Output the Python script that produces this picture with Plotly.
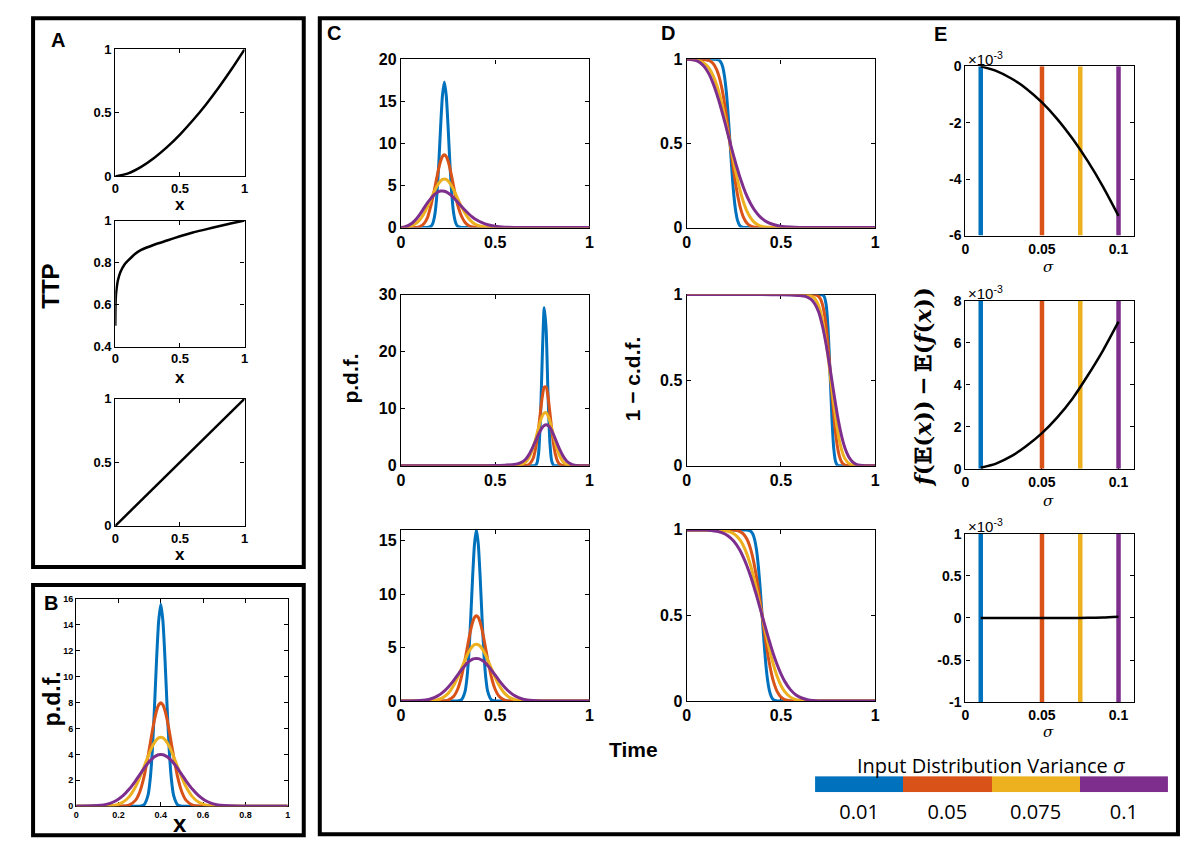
import plotly.graph_objects as go

W, H = 1200, 854
FONT = "Liberation Sans"

COLORS = ["#0072BD", "#D95319", "#EDB120", "#7E2F8E"]
SIGMAS = [0.01, 0.05, 0.075, 0.1]
SIGMA_LABELS = ["0.01", "0.05", "0.075", "0.1"]

# --- panel A: transfer functions (TTP) ---
A1_X = [0, 0.1, 0.2, 0.3, 0.4, 0.5, 0.6, 0.7, 0.8, 0.9, 1.0]
A1_Y = [0, 0.025, 0.076, 0.146, 0.231, 0.33, 0.442, 0.565, 0.70, 0.845, 1.0]
A2_X = [0, 0.002, 0.005, 0.01, 0.02, 0.04, 0.07, 0.1, 0.15, 0.2, 0.3, 0.4, 0.5, 0.6, 0.7, 0.8, 0.9, 1.0]
A2_Y = [0.5, 0.6, 0.645, 0.675, 0.715, 0.755, 0.79, 0.81, 0.84, 0.86, 0.885, 0.905, 0.925, 0.943, 0.958, 0.973, 0.987, 1.0]
A3_X = [0, 1]
A3_Y = [0, 1]

# --- row 1 (C/D top): output time grid and curves ---
T1 = [0, 0.02, 0.04, 0.06, 0.08, 0.10, 0.12, 0.14, 0.16, 0.17, 0.18, 0.19, 0.20, 0.21, 0.22, 0.23, 0.24, 0.25,
      0.26, 0.27, 0.28, 0.29, 0.30, 0.32, 0.34, 0.36, 0.38, 0.40, 0.43, 0.46, 0.50, 0.55, 0.60, 0.70, 0.80, 1.0]
C1_BLUE = [0, 0, 0, 0, 0, 0, 0, 0, 0.17, 0.58, 1.6, 3.8, 7.4, 11.9, 15.7, 17.3, 15.7, 11.9, 7.4, 3.8, 1.6, 0.58,
           0.17, 0.01, 0, 0, 0, 0, 0, 0, 0, 0, 0, 0, 0, 0]
C1_ORANGE = [0, 0, 0, 0.01, 0.02, 0.12, 0.42, 1.15, 2.73, 3.70, 4.80, 5.94, 7.01, 7.89, 8.47, 8.67, 8.47, 7.89,
             7.01, 5.94, 4.80, 3.70, 2.73, 1.40, 0.60, 0.22, 0.07, 0.02, 0, 0, 0, 0, 0, 0, 0, 0]
C1_YELLOW = [0, 0.04, 0.10, 0.24, 0.50, 0.93, 1.58, 2.45, 3.46, 3.96, 4.45, 4.88, 5.26, 5.54, 5.72, 5.78, 5.72,
             5.54, 5.26, 4.88, 4.45, 3.96, 3.46, 2.52, 1.70, 1.05, 0.60, 0.32, 0.12, 0.04, 0.01, 0, 0, 0, 0, 0]
C1_PURPLE = [0.01, 0.08, 0.26, 0.54, 0.98, 1.56, 2.25, 2.93, 3.50, 3.75, 3.97, 4.15, 4.28, 4.34, 4.35, 4.32, 4.24,
             4.11, 3.95, 3.75, 3.52, 3.28, 3.04, 2.54, 2.05, 1.61, 1.23, 0.92, 0.58, 0.33, 0.15, 0.05, 0.015, 0, 0, 0]
D1_BLUE = [1, 1, 1, 1, 1, 1, 1, 1, 0.999, 0.996, 0.985, 0.959, 0.903, 0.808, 0.668, 0.5, 0.332, 0.192, 0.097,
           0.041, 0.015, 0.005, 0.001, 0, 0, 0, 0, 0, 0, 0, 0, 0, 0, 0, 0, 0]
D1_ORANGE = [1, 1, 1, 1, 0.999, 0.998, 0.992, 0.975, 0.936, 0.903, 0.861, 0.808, 0.743, 0.668, 0.586, 0.5, 0.414,
             0.332, 0.257, 0.192, 0.139, 0.096, 0.064, 0.025, 0.008, 0.002, 0.001, 0, 0, 0, 0, 0, 0, 0, 0, 0]
D1_YELLOW = [1, 0.999, 0.997, 0.993, 0.985, 0.970, 0.945, 0.903, 0.845, 0.808, 0.766, 0.719, 0.668, 0.614, 0.558,
             0.5, 0.442, 0.386, 0.332, 0.281, 0.234, 0.192, 0.155, 0.096, 0.056, 0.030, 0.015, 0.007, 0.002, 0.001,
             0, 0, 0, 0, 0, 0]
D1_PURPLE = [1, 0.999, 0.996, 0.988, 0.972, 0.947, 0.909, 0.857, 0.793, 0.756, 0.718, 0.677, 0.636, 0.593, 0.549,
             0.506, 0.463, 0.422, 0.382, 0.344, 0.307, 0.274, 0.241, 0.185, 0.140, 0.103, 0.075, 0.053, 0.031,
             0.018, 0.008, 0.003, 0.001, 0, 0, 0]

# --- row 2 ---
T2 = [0, 0.2, 0.4, 0.5, 0.55, 0.6, 0.63, 0.66, 0.68, 0.70, 0.71, 0.72, 0.73, 0.74, 0.75, 0.76, 0.77, 0.78, 0.79,
      0.80, 0.81, 0.82, 0.83, 0.84, 0.86, 0.88, 0.90, 0.92, 0.95, 1.0]
C2_BLUE = [0, 0, 0, 0, 0, 0, 0, 0, 0, 0, 0.03, 0.35, 2.2, 8.4, 19.6, 27.7, 23.9, 12.5, 4.0, 0.77, 0.09, 0, 0, 0,
           0, 0, 0, 0, 0, 0]
C2_ORANGE = [0, 0, 0, 0, 0, 0, 0.01, 0.05, 0.25, 1.2, 2.35, 4.2, 6.6, 9.5, 12.2, 13.8, 13.8, 12.2, 9.3, 6.3, 3.7,
             1.9, 0.85, 0.33, 0.05, 0, 0, 0, 0, 0]
C2_YELLOW = [0, 0, 0, 0, 0.01, 0.05, 0.15, 0.6, 1.45, 3.1, 4.2, 5.4, 6.7, 7.9, 8.75, 9.24, 9.3, 8.75, 7.8, 6.5, 5.2,
             3.9, 2.75, 1.85, 0.7, 0.2, 0.05, 0.01, 0, 0]
C2_PURPLE = [0, 0, 0, 0.05, 0.12, 0.22, 0.45, 1.1, 2.0, 3.3, 4.05, 4.76, 5.53, 6.2, 6.74, 7.08, 7.2, 7.08, 6.74,
             6.1, 5.4, 4.6, 3.8, 3.0, 1.7, 0.8, 0.33, 0.1, 0.02, 0]
D2_BLUE = [1, 1, 1, 1, 1, 1, 1, 1, 1, 1, 1, 0.998, 0.988, 0.939, 0.801, 0.556, 0.287, 0.102, 0.024, 0.004, 0, 0,
           0, 0, 0, 0, 0, 0, 0, 0]
D2_ORANGE = [1, 1, 1, 1, 1, 1, 1, 1, 0.999, 0.989, 0.973, 0.943, 0.891, 0.810, 0.700, 0.569, 0.431, 0.300, 0.190,
             0.109, 0.057, 0.027, 0.011, 0.004, 0, 0, 0, 0, 0, 0]
D2_YELLOW = [1, 1, 1, 1, 1, 1, 0.999, 0.993, 0.976, 0.935, 0.900, 0.852, 0.792, 0.719, 0.636, 0.546, 0.454, 0.364,
             0.281, 0.208, 0.148, 0.100, 0.065, 0.041, 0.014, 0.004, 0.001, 0, 0, 0]
D2_PURPLE = [1, 1, 1, 0.999, 0.998, 0.995, 0.99, 0.972, 0.945, 0.898, 0.862, 0.818, 0.766, 0.707, 0.642, 0.572,
             0.5, 0.428, 0.358, 0.293, 0.234, 0.182, 0.138, 0.102, 0.051, 0.023, 0.009, 0.003, 0.0005, 0]

# --- row 3 (identity) and panel B input distributions ---
T3 = [0, 0.05, 0.10, 0.13, 0.16, 0.19, 0.22, 0.25, 0.28, 0.30, 0.32, 0.34, 0.35, 0.36, 0.37, 0.38, 0.39, 0.40,
      0.41, 0.42, 0.43, 0.44, 0.45, 0.46, 0.48, 0.50, 0.52, 0.55, 0.58, 0.61, 0.64, 0.67, 0.70, 0.75, 0.80, 1.0]
C3_BLUE = [0, 0, 0, 0, 0, 0, 0, 0, 0, 0.005, 0.1, 0.9, 2.16, 4.4, 7.8, 11.6, 14.7, 16.0, 14.7, 11.6, 7.8, 4.4,
           2.16, 0.9, 0.1, 0.005, 0, 0, 0, 0, 0, 0, 0, 0, 0, 0]
C3_ORANGE = [0, 0, 0, 0, 0, 0.001, 0.01, 0.09, 0.45, 1.08, 2.22, 3.89, 4.84, 5.80, 6.67, 7.37, 7.82, 7.98, 7.82,
             7.37, 6.67, 5.80, 4.84, 3.89, 2.22, 1.08, 0.45, 0.09, 0.01, 0.001, 0, 0, 0, 0, 0, 0]
C3_YELLOW = [0, 0, 0.002, 0.008, 0.03, 0.105, 0.30, 0.72, 1.48, 2.19, 3.01, 3.86, 4.26, 4.62, 4.91, 5.13, 5.27,
             5.32, 5.27, 5.13, 4.91, 4.62, 4.26, 3.86, 3.01, 2.19, 1.48, 0.72, 0.30, 0.105, 0.03, 0.008, 0.002, 0,
             0, 0]
C3_PURPLE = [0.0013, 0.009, 0.044, 0.10, 0.22, 0.44, 0.79, 1.30, 1.94, 2.42, 2.90, 3.33, 3.52, 3.68, 3.81, 3.91,
             3.97, 3.99, 3.97, 3.91, 3.81, 3.68, 3.52, 3.33, 2.90, 2.42, 1.94, 1.30, 0.79, 0.44, 0.22, 0.10, 0.044,
             0.009, 0.0013, 0]
D3_BLUE = [1, 1, 1, 1, 1, 1, 1, 1, 1, 1, 0.999, 0.992, 0.977, 0.945, 0.885, 0.788, 0.655, 0.5, 0.345, 0.212,
           0.115, 0.055, 0.023, 0.008, 0.001, 0, 0, 0, 0, 0, 0, 0, 0, 0, 0, 0]
D3_ORANGE = [1, 1, 1, 1, 1, 1, 1, 0.999, 0.992, 0.977, 0.945, 0.885, 0.841, 0.788, 0.726, 0.655, 0.579, 0.5,
             0.421, 0.345, 0.274, 0.212, 0.159, 0.115, 0.055, 0.023, 0.008, 0.001, 0, 0, 0, 0, 0, 0, 0, 0]
D3_YELLOW = [1, 1, 1, 1, 0.999, 0.997, 0.992, 0.977, 0.945, 0.909, 0.857, 0.788, 0.748, 0.703, 0.655, 0.605,
             0.553, 0.5, 0.447, 0.395, 0.345, 0.297, 0.252, 0.212, 0.143, 0.091, 0.055, 0.023, 0.008, 0.003,
             0.001, 0, 0, 0, 0, 0]
D3_PURPLE = [1, 1, 0.999, 0.997, 0.992, 0.982, 0.964, 0.933, 0.885, 0.841, 0.788, 0.726, 0.691, 0.655, 0.618,
             0.579, 0.540, 0.5, 0.460, 0.421, 0.382, 0.345, 0.309, 0.274, 0.212, 0.159, 0.115, 0.067, 0.036,
             0.018, 0.008, 0.003, 0.001, 0, 0, 0]
B_BLUE = [0, 0, 0, 0, 0, 0, 0, 0, 0, 0.005, 0.1, 0.88, 2.1, 4.3, 7.6, 11.3, 14.3, 15.6, 14.3, 11.3, 7.6, 4.3,
          2.1, 0.88, 0.1, 0.005, 0, 0, 0, 0, 0, 0, 0, 0, 0, 0]

# --- panel E: Jensen gap f(E(x)) - E(f(x)), in units of 1e-3 ---
E_SIGMA = [0.01, 0.02, 0.03, 0.04, 0.05, 0.06, 0.07, 0.08, 0.09, 0.10]
E1_GAP = [0, -0.16, -0.43, -0.80, -1.28, -1.87, -2.57, -3.37, -4.28, -5.30]
E2_GAP = [0.05, 0.25, 0.6, 1.1, 1.7, 2.45, 3.35, 4.45, 5.65, 7.0]
E3_GAP = [0, 0, 0, 0, 0, 0, 0, 0.002, 0.006, 0.015]


def refs(i):
    s = "" if i == 1 else str(i)
    return "xaxis" + s, "yaxis" + s, "x" + s, "y" + s


# the photographed page comes out slightly shrunk toward its centre (about 1% across, 2% down),
# so target pixel positions are mapped back before converting to paper fractions
SX, OX = 0.99, 6.0
SY, OY = 0.979, 9.7


def px(x):
    return ((x - OX) / SX) / W


def py(y):
    return 1 - ((y - OY) / SY) / H


layout = {}


def frame(i, box, xr, yr, xt, xtt, yt, ytt, size):
    xa, ya, xref, yref = refs(i)
    x0, y0, x1, y1 = box
    common = dict(showline=True, linecolor="black", linewidth=1.3, mirror="ticks", ticks="inside",
                  ticklen=4, tickwidth=1, tickcolor="black", showgrid=False, zeroline=False,
                  layer="below traces", fixedrange=True,
                  tickfont=dict(family=FONT, size=size, color="black", weight="bold"))
    layout[xa] = dict(domain=[px(x0), px(x1)], range=xr, tickvals=xt, ticktext=xtt, anchor=yref, **common)
    layout[ya] = dict(domain=[py(y1), py(y0)], range=yr, tickvals=yt, ticktext=ytt, anchor=xref, **common)
    return xref, yref


fig = go.Figure()


def curve(xref, yref, x, y, color, width, shape="spline"):
    fig.add_trace(go.Scatter(x=x, y=y, mode="lines", xaxis=xref, yaxis=yref, showlegend=False,
                             hoverinfo="skip",
                             line=dict(color=color, width=width, shape=shape, smoothing=0.6)))


X01 = [0, 0.5, 1]
X01_T = ["0", "0.5", "1"]

# panel A
for i, (box, xs, ys, yr, yt, ytt) in enumerate([
    ((117, 51, 246, 178), A1_X, A1_Y, [0, 1], [0, 0.5, 1], ["0", "0.5", "1"]),
    ((117, 222, 246, 348), A2_X, A2_Y, [0.4, 1], [0.4, 0.6, 0.8, 1], ["0.4", "0.6", "0.8", "1"]),
    ((117, 400, 246, 527), A3_X, A3_Y, [0, 1], [0, 0.5, 1], ["0", "0.5", "1"]),
], start=1):
    xr_, yr_ = frame(i, box, [0, 1], yr, X01, X01_T, yt, ytt, 13)
    curve(xr_, yr_, xs, ys, "black", 2.5)

# panel B
xr_, yr_ = frame(4, (78, 600, 289, 807), [0, 1], [0, 16], [0, 0.2, 0.4, 0.6, 0.8, 1],
                 ["0", "0.2", "0.4", "0.6", "0.8", "1"], list(range(0, 17, 2)),
                 [str(v) for v in range(0, 17, 2)], 9)
for y, c in zip([B_BLUE, C3_ORANGE, C3_YELLOW, C3_PURPLE], COLORS):
    curve(xr_, yr_, T3, y, c, 3)

ROWS_CD = [(61, 229), (296, 467), (531, 702)]
C_SERIES = [(T1, [C1_BLUE, C1_ORANGE, C1_YELLOW, C1_PURPLE], [0, 20], [0, 5, 10, 15, 20]),
            (T2, [C2_BLUE, C2_ORANGE, C2_YELLOW, C2_PURPLE], [0, 30], [0, 10, 20, 30]),
            (T3, [C3_BLUE, C3_ORANGE, C3_YELLOW, C3_PURPLE], [0, 16], [0, 5, 10, 15])]
D_SERIES = [(T1, [D1_BLUE, D1_ORANGE, D1_YELLOW, D1_PURPLE]),
            (T2, [D2_BLUE, D2_ORANGE, D2_YELLOW, D2_PURPLE]),
            (T3, [D3_BLUE, D3_ORANGE, D3_YELLOW, D3_PURPLE])]

for r, ((y0, y1), (t, ys, yr, yt)) in enumerate(zip(ROWS_CD, C_SERIES)):
    xr_, yr_ = frame(5 + r, (402, y0, 590, y1), [0, 1], yr, X01, X01_T, yt, [str(v) for v in yt], 16)
    for y, c in zip(ys, COLORS):
        curve(xr_, yr_, t, y, c, 3)

for r, ((y0, y1), (t, ys)) in enumerate(zip(ROWS_CD, D_SERIES)):
    xr_, yr_ = frame(8 + r, (687, y0, 875, y1), [0, 1], [0, 1], X01, X01_T, [0, 0.5, 1], ["0", "0.5", "1"], 16)
    for y, c in zip(ys, COLORS):
        curve(xr_, yr_, t, y, c, 3)

# panel E
ROWS_E = [(68, 237), (302, 470), (535, 703)]
E_SERIES = [(E1_GAP, [-6, 0], [-6, -4, -2, 0], ["-6", "-4", "-2", "0"]),
            (E2_GAP, [0, 8], [0, 2, 4, 6, 8], ["0", "2", "4", "6", "8"]),
            (E3_GAP, [-1, 1], [-1, -0.5, 0, 0.5, 1], ["-1", "-0.5", "0", "0.5", "1"])]
for r, ((y0, y1), (gap, yr, yt, ytt)) in enumerate(zip(ROWS_E, E_SERIES)):
    xr_, yr_ = frame(11 + r, (965, y0, 1133, y1), [0, 0.11], yr, [0, 0.05, 0.1], ["0", "0.05", "0.1"],
                     yt, ytt, 14)
    for s, c in zip(SIGMAS, COLORS):
        curve(xr_, yr_, [s, s], yr, c, 4.5, shape="linear")
    curve(xr_, yr_, E_SIGMA, gap, "black", 2.5)

# sigma legend bar (heatmap on its own axis)
fig.add_trace(go.Heatmap(
    z=[[0, 1, 2, 3]], x=[0, 1, 2, 3], y=[0], xaxis="x14", yaxis="y14", showscale=False, hoverinfo="skip",
    zmin=-0.5, zmax=3.5,
    colorscale=[[0, COLORS[0]], [0.25, COLORS[0]], [0.25, COLORS[1]], [0.5, COLORS[1]],
                [0.5, COLORS[2]], [0.75, COLORS[2]], [0.75, COLORS[3]], [1, COLORS[3]]],
))
layout["xaxis14"] = dict(domain=[px(815), px(1167)], range=[-0.5, 3.5], tickvals=[0, 1, 2, 3],
                         ticktext=SIGMA_LABELS, ticks="", showline=False, showgrid=False, zeroline=False,
                         anchor="y14", ticklabelstandoff=6, fixedrange=True,
                         tickfont=dict(family="Open Sans", size=20, color="black"))
layout["yaxis14"] = dict(domain=[py(793), py(777)], range=[-0.5, 0.5], visible=False, anchor="x14",
                         fixedrange=True)

ann = []


def text(x, y, s, size, bold=True, angle=0, family=FONT, xanchor="center"):
    ann.append(dict(x=px(x), y=py(y), xref="paper", yref="paper", text=f"<b>{s}</b>" if bold else s,
                    showarrow=False, textangle=angle, xanchor=xanchor, yanchor="middle",
                    font=dict(family=family, size=size, color="black")))


for lab, x, y in [("A", 60, 42), ("B", 53, 604), ("C", 335, 35), ("D", 668, 35), ("E", 940, 36)]:
    text(x, y, lab, 20)
text(52, 288, "TTP", 24, angle=-90)
for y in (206, 379, 556):
    text(182, y, "x", 17)
text(54, 700, "p.d.f.", 23, angle=-90)
text(182, 824, "x", 24)
text(352, 380, "p.d.f.", 21, angle=-90)
text(633, 380, "1 \u2212 c.d.f.", 21, angle=-90)
text(634, 750, "Time", 21)
text(922, 388, "<i>f</i>(\U0001D53C(<i>x</i>))\u2009\u2212\u2009\U0001D53C(<i>f</i>(<i>x</i>))", 23,
     angle=-90, family="DejaVu Serif")
for (y0, y1), ys in zip(ROWS_E, (268, 502, 733)):
    text(966, y0 - 8, "\u00d710<sup>-3</sup>", 15, bold=False, xanchor="left")
    text(1048, ys, "<i>\u03c3</i>", 15, bold=False, family="DejaVu Serif")
text(991, 766, "Input Distribution Variance <i>\u03c3</i>", 20, bold=False, family="Open Sans")

shapes = []
for x0, y0, x1, y1 in [(35, 20, 305, 568), (35, 586, 305, 836), (321, 20, 1177, 835)]:
    shapes.append(dict(type="rect", xref="paper", yref="paper", x0=px(x0), x1=px(x1), y0=py(y1), y1=py(y0),
                       line=dict(color="black", width=4)))

fig.update_layout(width=W, height=H, margin=dict(l=0, r=0, t=0, b=0), plot_bgcolor="white",
                  paper_bgcolor="white", annotations=ann, shapes=shapes, showlegend=False, **layout)
# pin the figure to the window's top-left corner
PIN = ("var d=document.getElementById('{plot_id}');d.style.position='fixed';d.style.top='0';"
       "d.style.left='0';document.body.style.margin='0';document.body.style.overflow='hidden';")
fig.write_html("out.html", config={"displayModeBar": False}, post_script=PIN)
